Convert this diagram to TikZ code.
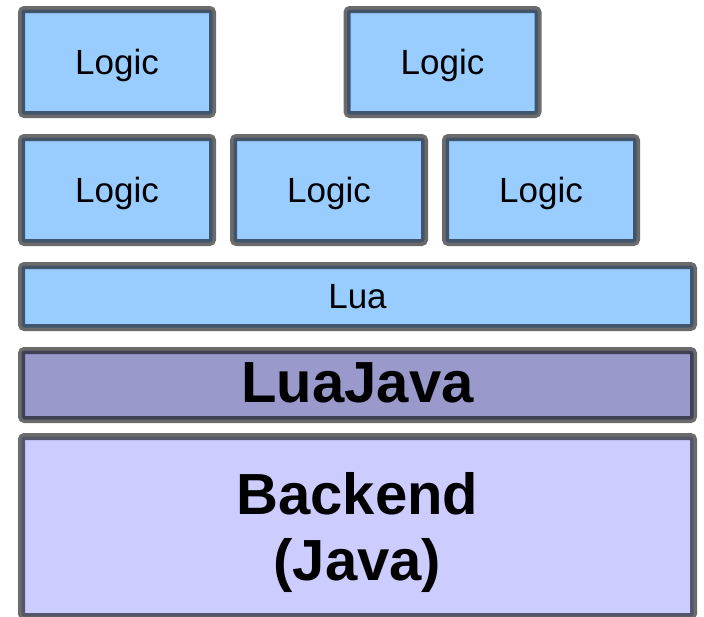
\documentclass[tikz,border=0pt]{standalone}
\usepackage{fontspec}
\setmainfont{Liberation Sans}
\definecolor{lblue}{HTML}{99CCFF}
\definecolor{ljava}{HTML}{9999CC}
\definecolor{lback}{HTML}{CCCCFF}
\begin{document}
\begin{tikzpicture}[x=1pt,y=-1pt,
  layer/.style={draw=black,draw opacity=0.58,line width=7pt,rounded corners=3pt,inner sep=0pt,anchor=center},
  logicbox/.style={layer,fill=lblue,minimum width=191pt,minimum height=105pt,font=\fontsize{35}{40}\selectfont,text height=25pt,text depth=0pt},
  ]
\useasboundingbox (0,0) rectangle (704,616);
\node[logicbox] (l1) at (117,62) {Logic};
\node[logicbox] (l2) at (442.5,62) {Logic};
\node[logicbox] (l3) at (117,190) {Logic};
\node[logicbox] (l4) at (329,190) {Logic};
\node[logicbox] (l5) at (541,190) {Logic};
\node[layer,fill=lblue,minimum width=672pt,minimum height=62pt,font=\fontsize{35}{40}\selectfont,text height=25pt,text depth=1pt] (lua) at (357.5,296.5) {Lua};
\node[layer,fill=ljava,minimum width=672pt,minimum height=69pt,font=\fontsize{58}{66}\selectfont\bfseries,text height=41.5pt,text depth=6pt] (luajava) at (357.5,385) {LuaJava};
\node[layer,fill=lback,minimum width=672pt,minimum height=180pt] (backend) at (357.5,526.5) {};
\node[font=\fontsize{58}{66}\selectfont\bfseries,align=center,inner sep=0pt] (backtxt) at (357.5,532) {Backend\\(Java)};
\end{tikzpicture}
\end{document}
